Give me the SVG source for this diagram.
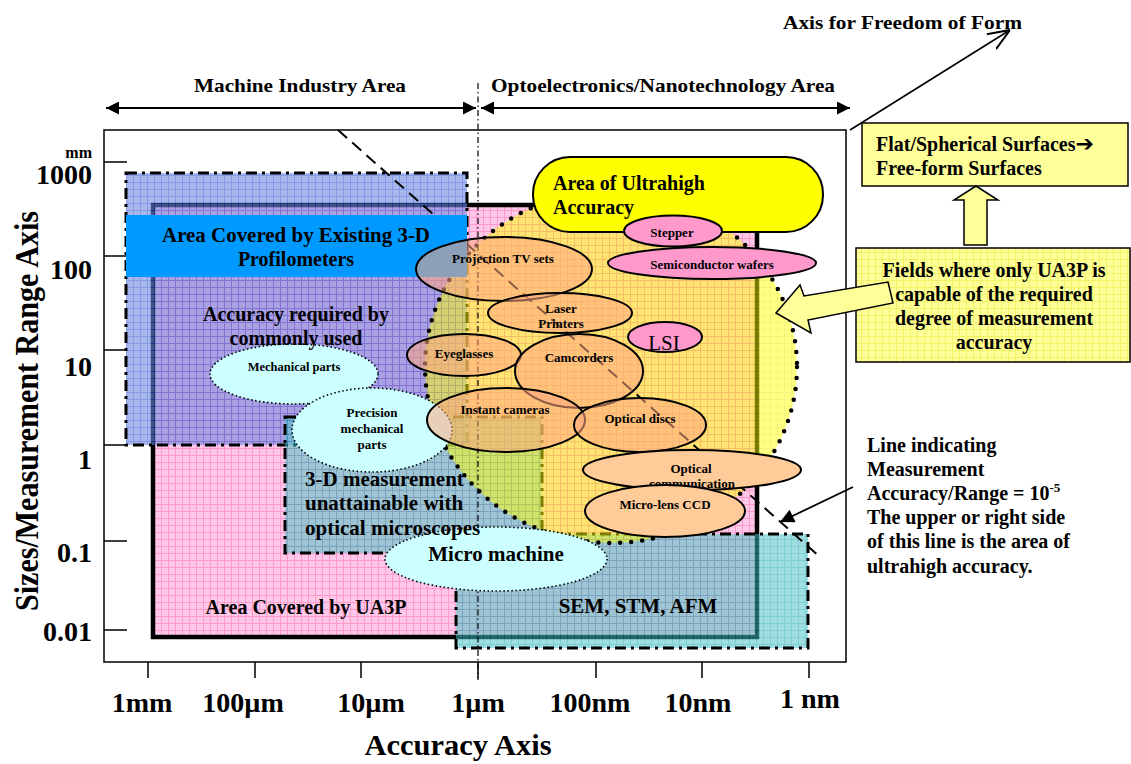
<svg xmlns="http://www.w3.org/2000/svg" width="1131" height="764" viewBox="0 0 1131 764">
<style>
text{font-family:"Liberation Serif","Times New Roman",serif;font-weight:bold;fill:#000}
.c{text-anchor:middle}
.r{text-anchor:end}
.ln{stroke:#000;fill:none}
.dd{stroke:#000;stroke-width:3;stroke-dasharray:11 5 3 5;fill:none}
.pk{fill:#ff99cc;stroke:#000;stroke-width:2}
.pe{fill:#ffa880;fill-opacity:0.55;stroke:#000;stroke-width:2}
.cy{fill:#ccffff;stroke:#000;stroke-width:1.6;stroke-dasharray:1.5 2.5}
.s13{font-size:13px}
.s20{font-size:20px}
.s21{font-size:21px}
</style>
<defs>
<pattern id="pPink" width="7" height="7" patternUnits="userSpaceOnUse"><rect width="7" height="7" fill="#ffc8e8"/><path d="M0 0.5H7M0.5 0V7" stroke="#ff9acb" stroke-width="1"/></pattern>
<pattern id="pBlue" width="7" height="7" patternUnits="userSpaceOnUse"><rect width="7" height="7" fill="#6e89df"/><path d="M0 0.5H7M0.5 0V7" stroke="#3358d8" stroke-width="1"/></pattern>
<pattern id="pTeal" width="7" height="7" patternUnits="userSpaceOnUse"><rect width="7" height="7" fill="#4fc3c3"/><path d="M0 0.5H7M0.5 0V7" stroke="#1aa8b0" stroke-width="1"/></pattern>
<pattern id="pYel" width="7" height="7" patternUnits="userSpaceOnUse"><rect width="7" height="7" fill="#ffff00"/><path d="M0 0.5H7M0.5 0V7" stroke="#e6e600" stroke-width="1"/></pattern>
<pattern id="pYel2" width="7" height="7" patternUnits="userSpaceOnUse"><rect width="7" height="7" fill="#ffff99"/><path d="M0 0.5H7M0.5 0V7" stroke="#f2f266" stroke-width="1"/></pattern>
<marker id="ah" viewBox="0 0 10 10" refX="10" refY="5" markerWidth="15" markerHeight="13" markerUnits="userSpaceOnUse" orient="auto-start-reverse"><path d="M0 0L10 5L0 10Z" fill="#000"/></marker>
<marker id="ah2" viewBox="0 0 10 10" refX="10" refY="5" markerWidth="16" markerHeight="14" markerUnits="userSpaceOnUse" orient="auto"><path d="M0 0L10 5L0 10Z" fill="#000"/></marker>
<marker id="ao" viewBox="0 0 10 10" refX="10" refY="5" markerWidth="22" markerHeight="22" markerUnits="userSpaceOnUse" orient="auto"><path d="M0 1L10 5L0 9" fill="none" stroke="#000" stroke-width="0.9"/></marker>
</defs>

<!-- regions -->
<g id="region-ua3p">
<rect x="153" y="205" width="604" height="432" fill="url(#pPink)"/>
<rect x="153" y="205" width="604" height="432" fill="none" stroke="#000" stroke-width="4.5"/>
</g>
<g id="region-profilometers">
<rect x="126" y="173" width="341" height="272" fill="url(#pBlue)" opacity="0.6"/>
<rect x="126" y="173" width="341" height="272" class="dd"/>
</g>
<g id="region-microscopes">
<rect x="285" y="417" width="257" height="136" fill="url(#pTeal)" opacity="0.55"/>
<rect x="285" y="417" width="257" height="136" class="dd"/>
</g>
<g id="region-sem">
<rect x="456" y="534" width="352" height="114" fill="url(#pTeal)" opacity="0.55"/>
<rect x="456" y="534" width="352" height="114" class="dd"/>
</g>
<g id="region-ultrahigh">
<ellipse cx="611" cy="367" rx="186" ry="176" fill="url(#pYel)" opacity="0.5"/>
<ellipse cx="611" cy="367" rx="186" ry="176" fill="none" stroke="#000" stroke-width="4.5" stroke-linecap="round" stroke-dasharray="0 11"/>
</g>

<!-- frame and axes -->
<g id="axes">
<path class="ln" stroke-width="1.5" d="M104 130H846V662H104Z"/>
<path class="ln" stroke-width="1.5" d="M104 162H127M104 256H127M104 350H127M104 445H127M104 541H127M104 630H127"/>
<path class="ln" stroke-width="1.5" d="M148 662V678M255 662V678M361 662V678M478 662V678M596 662V678M702 662V678M809 662V678"/>
<text x="92" y="158" class="r" style="font-size:16px">mm</text>
<text x="92" y="184" class="r" style="font-size:28px">1000</text>
<text x="92" y="279" class="r" style="font-size:28px">100</text>
<text x="92" y="376" class="r" style="font-size:28px">10</text>
<text x="92" y="469" class="r" style="font-size:28px">1</text>
<text x="92" y="562" class="r" style="font-size:28px">0.1</text>
<text x="92" y="641" class="r" style="font-size:28px">0.01</text>
<text x="142" y="712" class="c" style="font-size:28px">1mm</text>
<text x="243" y="712" class="c" style="font-size:28px">100µm</text>
<text x="371" y="712" class="c" style="font-size:28px">10µm</text>
<text x="478" y="712" class="c" style="font-size:28px">1µm</text>
<text x="590" y="712" class="c" style="font-size:28px">100nm</text>
<text x="698" y="712" class="c" style="font-size:28px">10nm</text>
<text x="810" y="708" class="c" style="font-size:28px">1 nm</text>
<text x="458" y="755" class="c" style="font-size:30px" textLength="187" lengthAdjust="spacingAndGlyphs">Accuracy Axis</text>
<text transform="translate(38 411) rotate(-90)" class="c" style="font-size:33px" textLength="400" lengthAdjust="spacingAndGlyphs">Sizes/Measurement Range Axis</text>
</g>

<!-- connectors / lines -->
<g id="connectors">
<line x1="478" y1="83" x2="478" y2="680" stroke="#000" stroke-width="1.2" stroke-dasharray="6 3 1.5 3"/>
<line x1="338" y1="130" x2="820" y2="557" stroke="#000" stroke-width="2" stroke-dasharray="12 7"/>
<line x1="106" y1="108" x2="476" y2="108" stroke="#000" stroke-width="2" marker-start="url(#ah)" marker-end="url(#ah)"/>
<line x1="481" y1="108" x2="850" y2="108" stroke="#000" stroke-width="2" marker-start="url(#ah)" marker-end="url(#ah)"/>
<line x1="850" y1="130" x2="1010" y2="30" stroke="#000" stroke-width="1.6" marker-end="url(#ao)"/>
<line x1="853" y1="487" x2="780" y2="522" stroke="#000" stroke-width="1.8" marker-end="url(#ah2)"/>
</g>

<g id="bar-profilometers">
<rect x="126" y="215" width="341" height="62" fill="#0099ff"/>
<text x="296" y="242" class="c s20" textLength="268" lengthAdjust="spacingAndGlyphs">Area Covered by Existing 3-D</text>
<text x="296" y="266" class="c s20">Profilometers</text>
</g>

<!-- cyan ellipses -->
<g id="node-mechanical"><ellipse cx="294" cy="374" rx="84" ry="30" class="cy"/><text x="294" y="371" class="c" style="font-size:12.5px">Mechanical parts</text></g>
<g id="node-precision"><ellipse cx="372" cy="430" rx="80" ry="42" class="cy"/>
<text x="372" y="417" class="c s13">Precision</text><text x="372" y="433" class="c s13">mechanical</text><text x="372" y="449" class="c s13">parts</text></g>
<g id="node-micromachine"><ellipse cx="496" cy="559" rx="111" ry="32" class="cy"/><text x="496" y="561" class="c s21">Micro machine</text></g>

<!-- pill -->
<g id="node-ultrahigh-label">
<rect x="533" y="157" width="290" height="75" rx="37" fill="#ffff00" stroke="#000" stroke-width="2"/>
<text x="553" y="190" class="s20">Area of Ultrahigh</text>
<text x="553" y="214" class="s20">Accuracy</text>
</g>

<!-- peach ellipses -->
<g id="node-projection"><ellipse cx="504" cy="269" rx="88" ry="32" class="pe"/><text x="503" y="263" class="c s13">Projection TV sets</text></g>
<g id="node-laser"><ellipse cx="560" cy="313" rx="72" ry="20" class="pe"/><text x="561" y="313" class="c s13">Laser</text><text x="561" y="328" class="c s13">Printers</text></g>
<g id="node-eyeglasses"><ellipse cx="464" cy="355" rx="57" ry="21" class="pe"/><text x="464" y="358" class="c s13">Eyeglasses</text></g>
<g id="node-camcorders"><ellipse cx="579" cy="371" rx="64" ry="37" class="pe"/><text x="579" y="362" class="c s13">Camcorders</text></g>
<g id="node-instant"><ellipse cx="506" cy="420" rx="79" ry="32" class="pe"/><text x="505" y="414" class="c s13">Instant cameras</text></g>
<g id="node-discs"><ellipse cx="640" cy="425" rx="66" ry="27" class="pe"/><text x="640" y="423" class="c s13">Optical discs</text></g>
<g id="node-optcomm"><ellipse cx="692" cy="470" rx="109" ry="20" fill="#ffcc99" stroke="#000" stroke-width="2"/><text x="691" y="473" class="c s13">Optical</text><text x="692" y="488" class="c s13">communication</text></g>
<g id="node-ccd"><ellipse cx="665" cy="511" rx="80" ry="26" fill="#ffcc99" stroke="#000" stroke-width="2"/><text x="665" y="509" class="c s13">Micro-lens CCD</text></g>

<!-- pink ellipses -->
<g id="node-stepper"><ellipse cx="673" cy="231" rx="49" ry="15.5" class="pk"/><text x="672" y="237" class="c s13">Stepper</text></g>
<g id="node-wafers"><ellipse cx="712" cy="263" rx="104" ry="16" class="pk"/><text x="712" y="269" class="c s13">Semiconductor wafers</text></g>
<g id="node-lsi"><ellipse cx="665" cy="337" rx="37" ry="15" class="pk"/><text x="664" y="350" class="c" style="font-size:21px;font-weight:normal">LSI</text></g>

<!-- region labels -->
<g id="labels">
<text x="296" y="321" class="c s20">Accuracy required by</text>
<text x="296" y="345" class="c s20">commonly used</text>
<text x="305" y="486" class="s21">3-D measurement</text>
<text x="305" y="510" class="s21">unattainable with</text>
<text x="305" y="535" class="s21">optical microscopes</text>
<text x="306" y="614" class="c s20">Area Covered by UA3P</text>
<text x="638" y="613" class="c s21">SEM, STM, AFM</text>
<text x="300" y="92" class="c" style="font-size:19px" textLength="212" lengthAdjust="spacingAndGlyphs">Machine Industry Area</text>
<text x="663" y="92" class="c" style="font-size:19px" textLength="344" lengthAdjust="spacingAndGlyphs">Optoelectronics/Nanotechnology Area</text>
<text x="783" y="29" style="font-size:18px" textLength="239" lengthAdjust="spacingAndGlyphs">Axis for Freedom of Form</text>
</g>

<!-- right side -->
<g id="node-freeform">
<rect x="862" y="123" width="266" height="63" fill="#ffff99" stroke="#000" stroke-width="1.5"/>
<text x="876" y="151" class="s20">Flat/Spherical Surfaces<tspan style="font-family:'DejaVu Sans',sans-serif;font-size:22px">➔</tspan></text>
<text x="876" y="175" class="s20">Free-form Surfaces</text>
</g>
<g id="node-uparrow">
<path d="M976 186L998 200H987V245H964V200H954Z" fill="#ffff99" stroke="#000" stroke-width="1.5"/>
</g>
<g id="node-fields">
<rect x="856" y="248" width="274" height="114" fill="url(#pYel2)" stroke="#000" stroke-width="1.5"/>
<text x="994" y="277" class="c s20">Fields where only UA3P is</text>
<text x="994" y="301" class="c s20">capable of the required</text>
<text x="994" y="325" class="c s20">degree of measurement</text>
<text x="994" y="349" class="c s20">accuracy</text>
</g>
<g id="node-leftarrow">
<path d="M776 313L800 285L804 296L888 282L893 303L808 320L811 333Z" fill="#ffff99" stroke="#000" stroke-width="1.5"/>
</g>
<g id="node-lineinfo">
<text x="867" y="452" class="s20">Line indicating</text>
<text x="867" y="476" class="s20">Measurement</text>
<text x="867" y="500" class="s20">Accuracy/Range = 10<tspan dy="-8" style="font-size:13px">-5</tspan></text>
<text x="867" y="524" class="s20">The upper or right side</text>
<text x="867" y="548" class="s20">of this line is the area of</text>
<text x="867" y="573" class="s20">ultrahigh accuracy.</text>
</g>
</svg>
